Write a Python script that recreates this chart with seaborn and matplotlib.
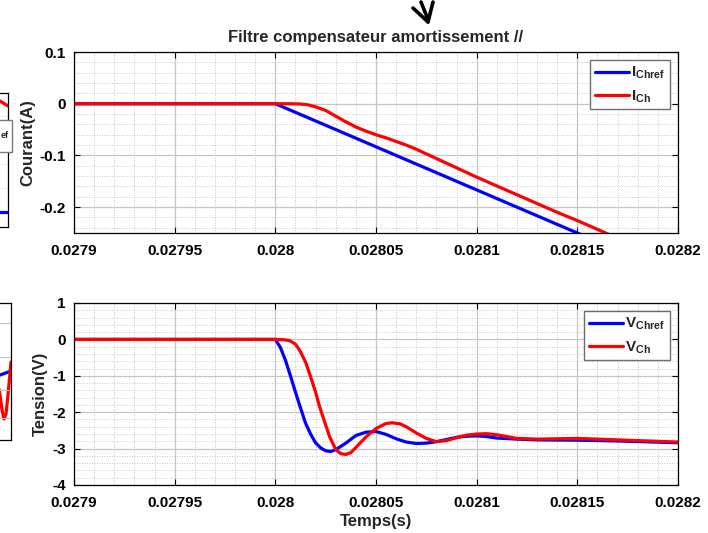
import numpy as np
import pandas as pd
import matplotlib
matplotlib.use("Agg")
import matplotlib.pyplot as plt
import seaborn as sns
from matplotlib.lines import Line2D
from matplotlib.patches import Rectangle
from matplotlib.ticker import MultipleLocator, FixedLocator

# ---------------- data ----------------
t_ichref = [0.0279, 0.02800, 0.02815, 0.02820]
i_chref = [0.0, 0.0, -0.25, -0.3333]

t_ich = [0.0279, 0.02800, 0.028008, 0.028012, 0.028016, 0.02802, 0.028025, 0.02803,
         0.028035, 0.02804, 0.028045, 0.02805, 0.028055, 0.02806, 0.028065, 0.02807,
         0.028075, 0.02808, 0.028085, 0.02809, 0.028095, 0.0281, 0.02811, 0.02812,
         0.02813, 0.02814, 0.02815, 0.02816, 0.02817]
i_ch = [0.0, 0.0, 0.0, -0.0005, -0.002, -0.006, -0.013, -0.024,
        -0.035, -0.045, -0.053, -0.060, -0.066, -0.073, -0.080, -0.088,
        -0.097, -0.106, -0.115, -0.124, -0.133, -0.142, -0.159, -0.176,
        -0.193, -0.210, -0.226, -0.243, -0.260]

t_vchref = [0.0279, 0.028, 0.0280025, 0.028005, 0.0280075, 0.02801, 0.0280125, 0.028015,
            0.0280175, 0.02802, 0.0280225, 0.028025, 0.0280275, 0.02803, 0.028035, 0.02804,
            0.028045, 0.02805, 0.028055, 0.02806, 0.028065, 0.02807, 0.028075, 0.02808,
            0.028085, 0.02809, 0.028095, 0.0281, 0.028105, 0.02811, 0.02812, 0.02813,
            0.02815, 0.02817, 0.0282]
v_chref = [0.0, 0.0, -0.22, -0.57, -1.0, -1.45, -1.88, -2.3,
           -2.6, -2.84, -2.98, -3.06, -3.08, -3.03, -2.85, -2.64,
           -2.55, -2.53, -2.61, -2.73, -2.82, -2.86, -2.85, -2.81,
           -2.75, -2.69, -2.66, -2.65, -2.67, -2.71, -2.74, -2.76,
           -2.77, -2.79, -2.84]

t_vch = [0.0279, 0.028, 0.028004, 0.028007, 0.02801, 0.028012, 0.028015, 0.028017,
         0.02802, 0.028022, 0.028025, 0.028027, 0.02803, 0.0280325, 0.028035, 0.0280375,
         0.02804, 0.028045, 0.02805, 0.028055, 0.028058, 0.028062, 0.028065, 0.02807,
         0.028075, 0.02808, 0.028085, 0.02809, 0.028095, 0.0281, 0.028105, 0.02811,
         0.028115, 0.02812, 0.02813, 0.02815, 0.02817, 0.0282]
v_ch = [0.0, 0.0, -0.01, -0.03, -0.13, -0.29, -0.62, -0.94,
        -1.45, -1.85, -2.35, -2.68, -3.02, -3.14, -3.16, -3.11,
        -2.97, -2.68, -2.45, -2.31, -2.29, -2.32, -2.40, -2.57,
        -2.72, -2.81, -2.78, -2.70, -2.63, -2.60, -2.59, -2.62,
        -2.67, -2.72, -2.74, -2.72, -2.76, -2.82]

x_ticks = [0.0279, 0.02795, 0.028, 0.02805, 0.0281, 0.02815, 0.0282]
x_ticklabels = ["0.0279", "0.02795", "0.028", "0.02805", "0.0281", "0.02815", "0.0282"]
y1_ticks = [0.1, 0.0, -0.1, -0.2]
y1_ticklabels = ["0.1", "0", "-0.1", "-0.2"]
y2_ticks = [1, 0, -1, -2, -3, -4]
y2_ticklabels = ["1", "0", "-1", "-2", "-3", "-4"]

title = "Filtre compensateur amortissement //"
ylabel_top = "Courant(A)"
ylabel_bot = "Tension(V)"
xlabel_bot = "Temps(s)"
legend_top = [r"$\mathbf{I_{Chref}}$", r"$\mathbf{I_{Ch}}$"]
legend_bot = [r"$\mathbf{V_{Chref}}$", r"$\mathbf{V_{Ch}}$"]

# fragments of neighbouring figure (left edge), in pixel-like units
frag1_blue_x = [-60, 8]
frag1_blue_y = [212, 212]
frag1_red_x = [-60, -10, 0, 8]
frag1_red_y = [96, 98, 101, 106]
frag2_blue_x = [-60, 0, 11]
frag2_blue_y = [378, 375, 371]
frag2_red_x = [-60, -10, -4, 0, 2, 4, 6, 8, 11]
frag2_red_y = [360, 360, 372, 395, 410, 419, 414, 395, 362]

# ---------------- style ----------------
sns.set_style("white")
plt.rcParams["font.family"] = ["Liberation Sans", "DejaVu Sans"]
plt.rcParams["font.weight"] = "bold"
plt.rcParams["mathtext.fontset"] = "custom"
plt.rcParams["mathtext.bf"] = "Liberation Sans:bold"
plt.rcParams["mathtext.rm"] = "Liberation Sans:bold"
plt.rcParams["mathtext.it"] = "Liberation Sans:bold"

W, H = 708, 533
fig = plt.figure(figsize=(W / 100, H / 100), dpi=100)
fig.patch.set_facecolor("white")


def px_axes(l, t, r, b):
    return fig.add_axes([l / W, 1 - b / H, (r - l) / W, (b - t) / H])


ax1 = px_axes(74, 52, 678, 233)
ax2 = px_axes(74, 303, 678, 485)

BLUE = (0, 0, 1)
RED = (1, 0, 0)
LW = 2.3
FS = 11
FSL = 12

df_i_ref = pd.DataFrame({"t": t_ichref, "v": i_chref})
df_i = pd.DataFrame({"t": t_ich, "v": i_ch})
df_v_ref = pd.DataFrame({"t": t_vchref, "v": v_chref})
df_v = pd.DataFrame({"t": t_vch, "v": v_ch})

sns.lineplot(data=df_i_ref, x="t", y="v", ax=ax1, color=BLUE, lw=LW, label=legend_top[0],
             sort=False, estimator=None)
sns.lineplot(data=df_i, x="t", y="v", ax=ax1, color=RED, lw=LW, label=legend_top[1],
             sort=False, estimator=None)
sns.lineplot(data=df_v_ref, x="t", y="v", ax=ax2, color=BLUE, lw=LW, label=legend_bot[0],
             sort=False, estimator=None)
sns.lineplot(data=df_v, x="t", y="v", ax=ax2, color=RED, lw=LW, label=legend_bot[1],
             sort=False, estimator=None)


def style_axes(ax, yt, ytl, ylim, yminor):
    ax.set_xlim(0.0279, 0.0282)
    ax.set_ylim(*ylim)
    ax.xaxis.set_major_locator(FixedLocator(x_ticks))
    ax.set_xticklabels(x_ticklabels, fontsize=FS, fontweight="bold")
    ax.yaxis.set_major_locator(FixedLocator(yt))
    ax.set_yticklabels(ytl, fontsize=FS, fontweight="bold")
    ax.xaxis.set_minor_locator(MultipleLocator(0.00001))
    ax.yaxis.set_minor_locator(MultipleLocator(yminor))
    ax.grid(which="major", color="#c6c6c6", lw=0.9, ls="-")
    ax.grid(which="minor", color="#b4b4b4", lw=0.6, ls=(0, (1, 2)))
    ax.set_axisbelow(True)
    ax.tick_params(which="major", direction="in", length=4, width=0.8, top=True, right=True,
                   bottom=True, left=True, colors="black")
    ax.tick_params(axis="x", which="major", pad=8)
    ax.tick_params(axis="y", which="major", pad=6)
    ax.tick_params(which="minor", length=0, top=False, right=False, bottom=False, left=False)
    for s in ax.spines.values():
        s.set_color("black")
        s.set_linewidth(0.9)
        s.set_visible(True)
    ax.set_xlabel("")
    ax.set_ylabel("")


style_axes(ax1, y1_ticks, y1_ticklabels, (-0.25, 0.1), 0.02)
style_axes(ax2, y2_ticks, y2_ticklabels, (-4, 1), 0.2)

ax1.set_title(title, fontsize=FSL, fontweight="bold", pad=7)
ax1.set_ylabel(ylabel_top, fontsize=FSL, fontweight="bold")
ax2.set_ylabel(ylabel_bot, fontsize=FSL, fontweight="bold")
ax1.yaxis.set_label_coords((35 - 74) / 604, 0.5)
ax2.yaxis.set_label_coords((48 - 74) / 604, 0.5)
ax2.set_xlabel(xlabel_bot, fontsize=FSL, fontweight="bold", labelpad=3)

for ax in (ax1, ax2):
    leg = ax.legend(loc="upper right", fontsize=FS, frameon=True, fancybox=False,
                    edgecolor="#6e6e6e", framealpha=1, borderpad=0.3, labelspacing=0.45,
                    handlelength=2.2, handletextpad=0.15, borderaxespad=0.55)
    leg.get_frame().set_linewidth(1.0)

# ---------------- fragments of neighbouring figure ----------------
f1 = px_axes(-60, 93, 8, 227)
f1.plot(frag1_blue_x, frag1_blue_y, color=BLUE, lw=LW)
f1.plot(frag1_red_x, frag1_red_y, color=RED, lw=LW)
f1.set_xlim(-60, 8)
f1.set_ylim(227, 93)
f1.set_xticks([])
f1.set_yticks([])
for y in (116, 140, 164, 188):
    f1.axhline(y, color="#c0c0c0", lw=0.6, ls=(0, (1, 2)))
for s in f1.spines.values():
    s.set_color("black")
    s.set_linewidth(0.9)
f1.add_patch(Rectangle((-30, 120), 42, 32, facecolor="white", edgecolor="#7a7a7a",
                       lw=1.0, clip_on=False, zorder=5))
f1.text(0.5, 136, "ef", fontsize=6.5, fontweight="bold", va="center", ha="left", zorder=6)

f2 = px_axes(-60, 303, 11, 440)
f2.plot(frag2_blue_x, frag2_blue_y, color=BLUE, lw=LW)
f2.plot(frag2_red_x, frag2_red_y, color=RED, lw=LW)
f2.set_xlim(-60, 11)
f2.set_ylim(440, 303)
f2.set_xticks([])
f2.set_yticks([])
for y in (323, 357, 390, 418):
    f2.axhline(y, color="#c0c0c0", lw=0.8)
for s in f2.spines.values():
    s.set_color("black")
    s.set_linewidth(0.9)

# ---------------- arrow mark at top ----------------
for (x0, y0, x1, y1) in [(413, 8, 428, 22), (433, 2, 428, 22), (421, 2, 427, 17)]:
    fig.add_artist(Line2D([x0 / W, x1 / W], [1 - y0 / H, 1 - y1 / H], color="black",
                          lw=2.6, solid_capstyle="round", transform=fig.transFigure))

fig.savefig("out.png", dpi=100, facecolor="white")
